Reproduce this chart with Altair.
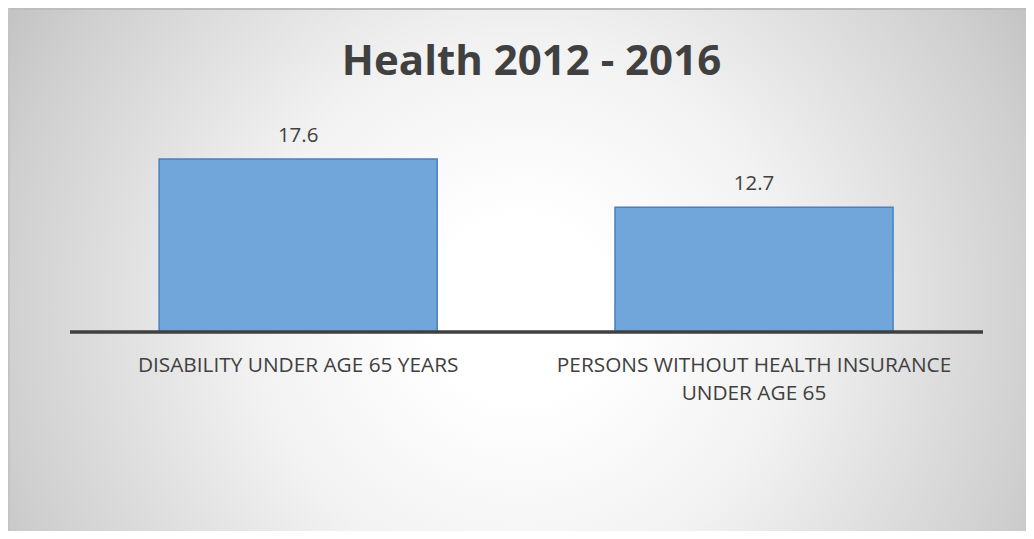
import altair as alt
import pandas as pd

# ---- data ----
title_text = "Health 2012 - 2016"
categories = [
    "DISABILITY UNDER AGE 65 YEARS",
    "PERSONS WITHOUT HEALTH INSURANCE UNDER AGE 65",
]
display_labels = [
    "DISABILITY UNDER AGE 65 YEARS",
    "PERSONS WITHOUT HEALTH INSURANCE\nUNDER AGE 65",
]
values = [17.6, 12.7]
baseline_values = [0, 0]

W, H = 1018, 523
FONT = "Open Sans"
TEXT_COLOR = "#404040"

df = pd.DataFrame({
    "category": categories,
    "label": display_labels,
    "value": values,
    "zero": baseline_values,
})
one = pd.DataFrame({"t": [title_text]})

x_enc = alt.X(
    "category:N",
    sort=None,
    axis=None,
    scale=alt.Scale(paddingInner=0.39, paddingOuter=0.3116, align=0.532),
)
y_scale = alt.Scale(domain=[-20.24, 32.96], nice=False)
y_enc = alt.Y("value:Q", axis=None, scale=y_scale)
y0_enc = alt.Y("zero:Q", axis=None, scale=y_scale)

gradient = {
    "gradient": "radial",
    "x1": 0.503, "y1": 0.54, "r1": 0,
    "x2": 0.503, "y2": 0.54, "r2": 0.59,
    "stops": [
        {"offset": 0.0, "color": "#ffffff"},
        {"offset": 0.15, "color": "#ffffff"},
        {"offset": 0.45, "color": "#f2f2f2"},
        {"offset": 0.87, "color": "#cfcfcf"},
        {"offset": 1.0, "color": "#c2c2c2"},
    ],
}
bg = alt.Chart(one).mark_rect(fill=gradient, strokeWidth=0).encode(
    x=alt.value(0), x2=alt.value(W), y=alt.value(0), y2=alt.value(H)
)

border_top = alt.Chart(one).mark_rule(color="#bdbdbd", strokeWidth=2).encode(
    x=alt.value(0), x2=alt.value(W), y=alt.value(1)
)
border_left = alt.Chart(one).mark_rule(color="#c4c4c4", strokeWidth=2).encode(
    x=alt.value(1), y=alt.value(0), y2=alt.value(H)
)

bars = alt.Chart(df).mark_bar(
    fill="#70a6da", stroke="#4a7fc0", strokeWidth=1.5
).encode(x=x_enc, y=y_enc, y2="zero:Q")

baseline = alt.Chart(df).mark_rule(color="#404040", strokeWidth=3).encode(
    x=alt.value(62), x2=alt.value(975), y=y0_enc
)

value_text = alt.Chart(df).mark_text(
    baseline="alphabetic", dy=-17, fontSize=20.5, font=FONT, color=TEXT_COLOR
).encode(x=x_enc, y=y_enc, text=alt.Text("value:Q", format=".1f"))

cat_text = alt.Chart(df).mark_text(
    baseline="alphabetic", align="center", dy=39.5, lineHeight=28, lineBreak="\n",
    fontSize=20.8, font=FONT, color=TEXT_COLOR
).encode(x=x_enc, y=y0_enc, text="label:N")

title = alt.Chart(one).mark_text(
    baseline="alphabetic", align="center", fontSize=42, fontWeight="bold",
    font=FONT, color=TEXT_COLOR
).encode(x=alt.value(523.5), y=alt.value(67), text="t:N")

chart = (
    alt.layer(bg, border_top, border_left, bars, baseline, value_text, cat_text, title)
    .properties(width=W, height=H, padding=0, autosize="none", background="white")
    .configure_view(strokeWidth=0)
)

chart.save("out.html", embed_options={"renderer": "svg", "actions": False})
